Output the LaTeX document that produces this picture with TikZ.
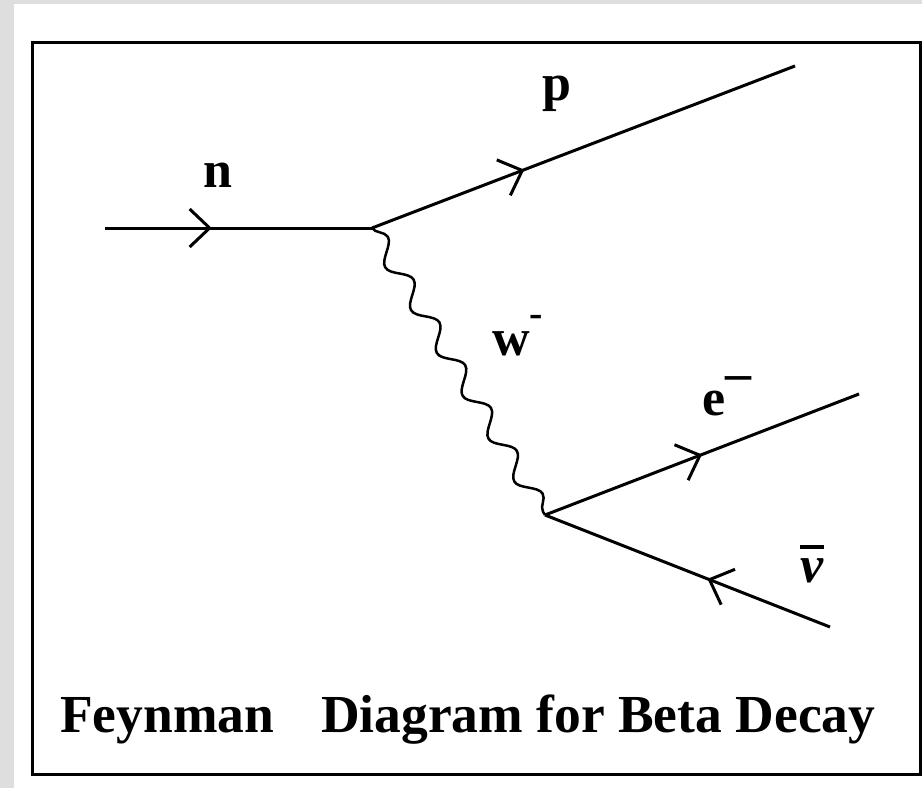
\documentclass[tikz,border=0pt]{standalone}
\usepackage{fontspec}
\setmainfont{Liberation Serif}
\usepackage{xcolor}
\usepackage{tikz}
\usetikzlibrary{arrows.meta}
\usetikzlibrary{decorations.pathmorphing,decorations.markings}
\definecolor{bggray}{RGB}{222,222,222}
\tikzstyle{vlabel}=[font=\fontsize{52}{52}\selectfont\bfseries, inner sep=0pt, anchor=base]
\tikzstyle{photon}=[line width=2.5pt, decorate, decoration={snake, amplitude=9pt, segment length=50pt}]
\tikzset{fermion/.style={line width=3pt, postaction={decorate},% arrow head part way along the line
decoration={markings, mark=at position #1 with {\arrow{Straight Barb[length=20pt,width=38pt,line width=3pt]}}}}}
\newcommand{\barred}[1]{\vbox{\hrule height 4pt\kern 9pt\hbox{#1}}}

\begin{document}
\begin{tikzpicture}[x=1pt,y=-1pt]
\useasboundingbox (0,0) rectangle (922,788);
\fill[bggray] (0,0) rectangle (922,788);
\fill[white] (14,4) rectangle (922,788);
\draw[line width=3pt] (32,42) rectangle (920,774);
\coordinate (nin) at (105,228);
\coordinate (V1) at (372,228);
\coordinate (pout) at (795,66);
\coordinate (V2) at (545,515);
\coordinate (eout) at (859,394);
\coordinate (nuin) at (830,627);
\node[vlabel] (nlab) at (218,187) {n};
\node[vlabel] (plab) at (557,100) {p};
\node[vlabel, anchor=base west] (wlab) at (492,355) {w\raisebox{29pt}{\fontsize{40}{40}\selectfont -}};
\node[vlabel, anchor=base west] (elab) at (702,415) {e\raisebox{25pt}{–}};
\node[vlabel] (nulab) at (812,582) {\barred{\itshape ν}};
\node[font=\fontsize{53.5}{60}\selectfont\bfseries, inner sep=0pt, anchor=base west] (title) at (60,732) {Feynman\hspace{47pt}Diagram for Beta Decay};
\draw[fermion=0.4]  (nin) -- (V1);
\draw[fermion=0.36] (V1) -- (pout);
\draw[photon] (V1) -- (V2);
\draw[fermion=0.5]  (V2) -- (eout);
\draw[fermion=0.43] (nuin) -- (V2);
\end{tikzpicture}
\end{document}
